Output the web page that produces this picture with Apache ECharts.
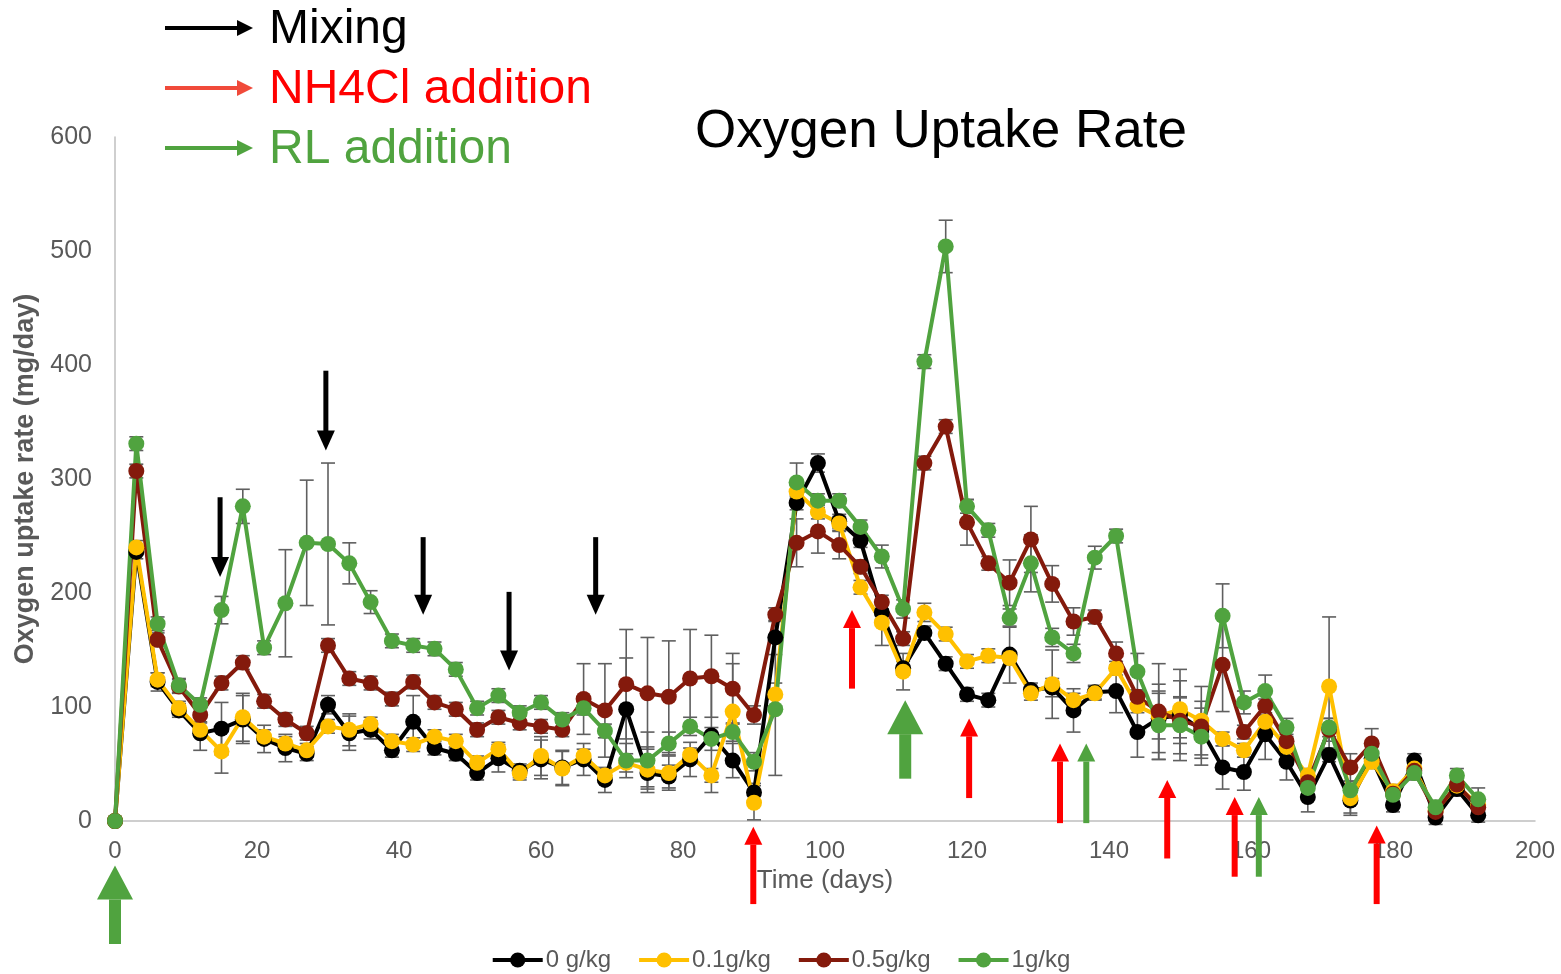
<!DOCTYPE html>
<html>
<head>
<meta charset="utf-8">
<title>Oxygen Uptake Rate</title>
<script src="https://cdn.jsdelivr.net/npm/echarts@6/dist/echarts.min.js"></script>
<style>
  html, body { margin: 0; padding: 0; background: #ffffff; }
  #chart { width: 1561px; height: 974px; }
</style>
</head>
<body>
<div id="chart"></div>
<script>
// Sampling days
const days = [0, 3, 6, 9, 12, 15, 18, 21, 24, 27, 30, 33, 36, 39, 42, 45, 48, 51, 54, 57,
  60, 63, 66, 69, 72, 75, 78, 81, 84, 87, 90, 93, 96, 99, 102, 105, 108, 111, 114, 117,
  120, 123, 126, 129, 132, 135, 138, 141, 144, 147, 150, 153, 156, 159, 162, 165, 168, 171, 174, 177,
  180, 183, 186, 189, 192];

// Oxygen uptake rate (mg/day) per treatment
const our0 = [0, 236, 122, 97, 77, 81, 89, 72, 64, 59, 102, 77, 80, 62, 87, 64, 59, 42, 55, 44,
  54, 47, 54, 36, 98, 42, 39, 54, 75, 53, 25, 161, 279, 314, 263, 246, 183, 134, 165, 138,
  111, 106, 146, 115, 117, 97, 113, 114, 78, 90, 93, 80, 47, 43, 76, 52, 21, 58, 18, 55,
  14, 53, 3, 28, 5];
const our01 = [0, 240, 124, 99, 80, 61, 91, 74, 68, 62, 83, 80, 85, 70, 67, 74, 70, 51, 63, 42,
  57, 46, 57, 40, 51, 45, 42, 58, 40, 96, 16, 111, 289, 271, 261, 205, 174, 131, 183, 164,
  140, 145, 143, 112, 120, 106, 112, 134, 101, 92, 98, 88, 72, 62, 87, 65, 40, 118, 20, 52,
  26, 46, 9, 31, 14];
const our05 = [0, 307, 159, 118, 93, 121, 139, 105, 89, 77, 154, 125, 121, 107, 122, 104, 98, 80, 91, 86,
  83, 80, 107, 97, 120, 112, 109, 125, 127, 116, 93, 181, 244, 254, 242, 223, 192, 160, 314, 346,
  262, 226, 209, 247, 208, 175, 179, 147, 109, 96, 88, 83, 137, 78, 101, 70, 34, 80, 47, 68,
  24, 44, 8, 32, 12];
const our1 = [0, 331, 173, 119, 102, 185, 276, 152, 191, 244, 243, 226, 192, 158, 154, 151, 133, 99, 110, 95,
  104, 89, 99, 79, 53, 53, 68, 83, 72, 78, 52, 98, 297, 281, 281, 258, 232, 186, 403, 504,
  276, 255, 178, 226, 161, 147, 231, 250, 131, 84, 84, 74, 180, 104, 114, 82, 29, 82, 27, 59,
  23, 42, 12, 40, 19];

// Standard deviations (mg/day)
const sd0 = [0, 6, 8, 6, 15, 23, 21, 12, 12, 6, 8, 15, 8, 6, 23, 6, 6, 6, 12, 6,
  17, 15, 14, 11, 45, 12, 10, 15, 50, 15, 8, 15, 6, 8, 6, 6, 6, 6, 6, 6,
  6, 6, 25, 6, 8, 19, 6, 19, 22, 30, 40, 25, 19, 16, 22, 16, 13, 6, 13, 6,
  6, 6, 6, 6, 6];
const sd01 = [0, 6, 6, 6, 6, 19, 21, 6, 6, 6, 6, 14, 6, 6, 6, 6, 6, 6, 6, 6,
  17, 15, 6, 6, 8, 20, 15, 6, 6, 42, 15, 10, 6, 6, 6, 6, 20, 16, 8, 6,
  6, 6, 6, 6, 30, 6, 6, 6, 6, 20, 25, 30, 6, 6, 6, 6, 6, 61, 13, 6,
  6, 6, 6, 6, 6];
const sd05 = [0, 6, 6, 6, 6, 6, 6, 6, 6, 6, 6, 6, 6, 6, 6, 6, 6, 6, 6, 6,
  6, 6, 31, 41, 48, 49, 49, 43, 36, 31, 8, 6, 21, 19, 12, 6, 6, 6, 6, 6,
  20, 6, 20, 29, 16, 12, 6, 10, 6, 42, 20, 6, 41, 6, 6, 6, 6, 10, 12, 13,
  6, 6, 6, 6, 6];
const sd1 = [0, 6, 6, 6, 6, 12, 15, 6, 47, 55, 71, 18, 10, 6, 6, 6, 6, 6, 6, 6,
  6, 6, 6, 6, 15, 25, 10, 8, 10, 8, 8, 58, 17, 6, 6, 6, 10, 8, 6, 23,
  6, 6, 8, 25, 8, 8, 10, 6, 16, 30, 25, 25, 28, 10, 14, 8, 8, 8, 8, 8,
  6, 6, 6, 6, 10];

// Event markers: [day, tail value, head value]
const mixingEvents = [[14.8, 284, 214], [29.7, 395, 325], [43.4, 249, 181], [55.5, 201, 132], [67.7, 249, 181]];
const nh4clEvents = [[89.9, -72, -5], [103.8, 117, 185], [120.3, 21, 90], [133.1, -1, 68],
  [148.2, -32, 36], [157.7, -48, 21], [177.7, -72, -4]];
const rlEventsSmall = [[136.8, -1, 68], [161.1, -48, 21]];
const rlEventsLarge = [[0, -107, -39], [111.3, 38, 106]];

const seriesNames = ['0 g/kg', '0.1g/kg', '0.5g/kg', '1g/kg'];
const seriesValues = [our0, our01, our05, our1];
const seriesSd = [sd0, sd01, sd05, sd1];
const seriesColors = ['#000000', '#FFC000', '#841A0C', '#50A33F'];

const FONT = '"Liberation Sans", Arial, sans-serif';
const GREY = '#595959';

function errorBarItem(params, api) {
  const x = api.value(0);
  const lo = api.coord([x, api.value(1)]);
  const hi = api.coord([x, api.value(2)]);
  const cap = 7;
  const style = { stroke: '#5f5f5f', lineWidth: 1.6, fill: null };
  return {
    type: 'group',
    children: [
      { type: 'line', shape: { x1: lo[0], y1: lo[1], x2: hi[0], y2: hi[1] }, style },
      { type: 'line', shape: { x1: lo[0] - cap, y1: lo[1], x2: lo[0] + cap, y2: lo[1] }, style },
      { type: 'line', shape: { x1: hi[0] - cap, y1: hi[1], x2: hi[0] + cap, y2: hi[1] }, style }
    ]
  };
}

function arrowRenderer(color, shaft, headW, headL) {
  return function (params, api) {
    const x = api.value(0);
    const tail = api.coord([x, api.value(1)]);
    const head = api.coord([x, api.value(2)]);
    const dir = head[1] > tail[1] ? 1 : -1;
    const base = head[1] - dir * headL;
    const cx = head[0];
    return {
      type: 'group',
      children: [
        {
          type: 'rect',
          shape: { x: cx - shaft / 2, y: Math.min(tail[1], base), width: shaft, height: Math.abs(base - tail[1]) + 1 },
          style: { fill: color }
        },
        {
          type: 'polygon',
          shape: { points: [[cx - headW / 2, base], [cx + headW / 2, base], [cx, head[1]]] },
          style: { fill: color }
        }
      ]
    };
  };
}

const series = [];
seriesNames.forEach(function (name, i) {
  const vals = seriesValues[i];
  const sd = seriesSd[i];
  series.push({
    name: 'sd ' + name,
    type: 'custom',
    renderItem: errorBarItem,
    encode: { x: 0, y: [1, 2] },
    data: days.map(function (d, k) { return [d, vals[k] - sd[k], vals[k] + sd[k]]; }),
    silent: true,
    z: 2
  });
  series.push({
    name: name,
    type: 'line',
    data: days.map(function (d, k) { return [d, vals[k]]; }),
    symbol: 'circle',
    symbolSize: 16,
    showAllSymbol: true,
    lineStyle: { color: seriesColors[i], width: 4 },
    itemStyle: { color: seriesColors[i] },
    z: 2
  });
});

function arrowSeries(name, data, color, shaft, headW, headL) {
  return {
    name: name,
    type: 'custom',
    renderItem: arrowRenderer(color, shaft, headW, headL),
    encode: { x: 0, y: [1, 2] },
    data: data,
    clip: false,
    silent: true,
    z: 3
  };
}
series.push(arrowSeries('Mixing', mixingEvents, '#000000', 5, 18, 20));
series.push(arrowSeries('NH4Cl addition', nh4clEvents, '#FF0000', 6, 18, 18));
series.push(arrowSeries('RL addition', rlEventsSmall, '#50A33F', 6, 18, 18));
series.push(arrowSeries('RL addition (bulk)', rlEventsLarge, '#50A33F', 12, 36, 34));

// Key for the event arrows, top left
function keyArrow(y, color) {
  return [
    { type: 'rect', shape: { x: 165, y: y - 2, width: 74, height: 4 }, style: { fill: color } },
    { type: 'polygon', shape: { points: [[237, y - 8], [237, y + 8], [253, y]] }, style: { fill: color } }
  ];
}
function keyText(y, text, color) {
  return {
    type: 'text', x: 269, y: y,
    style: { text: text, fill: color, font: '48px ' + FONT, textVerticalAlign: 'middle' }
  };
}

const chart = echarts.init(document.getElementById('chart'), null, { renderer: 'canvas' });
chart.setOption({
  animation: false,
  backgroundColor: '#ffffff',
  title: {
    text: 'Oxygen Uptake Rate',
    left: 690,
    top: 101,
    textStyle: { fontFamily: FONT, fontSize: 53, fontWeight: 'normal', color: '#000000' }
  },
  legend: {
    data: seriesNames,
    top: 943,
    left: 'center',
    itemWidth: 50,
    itemHeight: 19,
    itemGap: 26,
    lineStyle: { width: 4 },
    textStyle: { fontFamily: FONT, fontSize: 24, color: GREY, padding: [0, 0, 0, -2] }
  },
  grid: { left: 115, top: 137, width: 1420, height: 684, containLabel: false },
  xAxis: {
    type: 'value',
    min: 0,
    max: 200,
    interval: 20,
    name: 'Time (days)',
    nameLocation: 'middle',
    nameGap: 43,
    nameTextStyle: { fontFamily: FONT, fontSize: 26, color: GREY },
    axisLine: { show: true, onZero: false, lineStyle: { color: '#bfbfbf', width: 1.5 } },
    axisTick: { show: false },
    splitLine: { show: false },
    axisLabel: { fontFamily: FONT, fontSize: 24, color: GREY, margin: 18 }
  },
  yAxis: {
    type: 'value',
    min: 0,
    max: 600,
    interval: 100,
    name: 'Oxygen uptake rate (mg/day)',
    nameLocation: 'middle',
    nameGap: 68,
    nameTextStyle: { fontFamily: FONT, fontSize: 27, fontWeight: 'bold', color: GREY },
    axisLine: { show: true, lineStyle: { color: '#bfbfbf', width: 1.5 } },
    axisTick: { show: false },
    splitLine: { show: false },
    axisLabel: { fontFamily: FONT, fontSize: 25, color: GREY, margin: 23 }
  },
  graphic: [].concat(
    keyArrow(28, '#000000'), keyArrow(88, '#F04A3A'), keyArrow(148, '#50A33F'),
    [keyText(30, 'Mixing', '#000000'), keyText(90, 'NH4Cl addition', '#FF0000'), keyText(150, 'RL addition', '#50A33F')]
  ),
  series: series
});
</script>
</body>
</html>
